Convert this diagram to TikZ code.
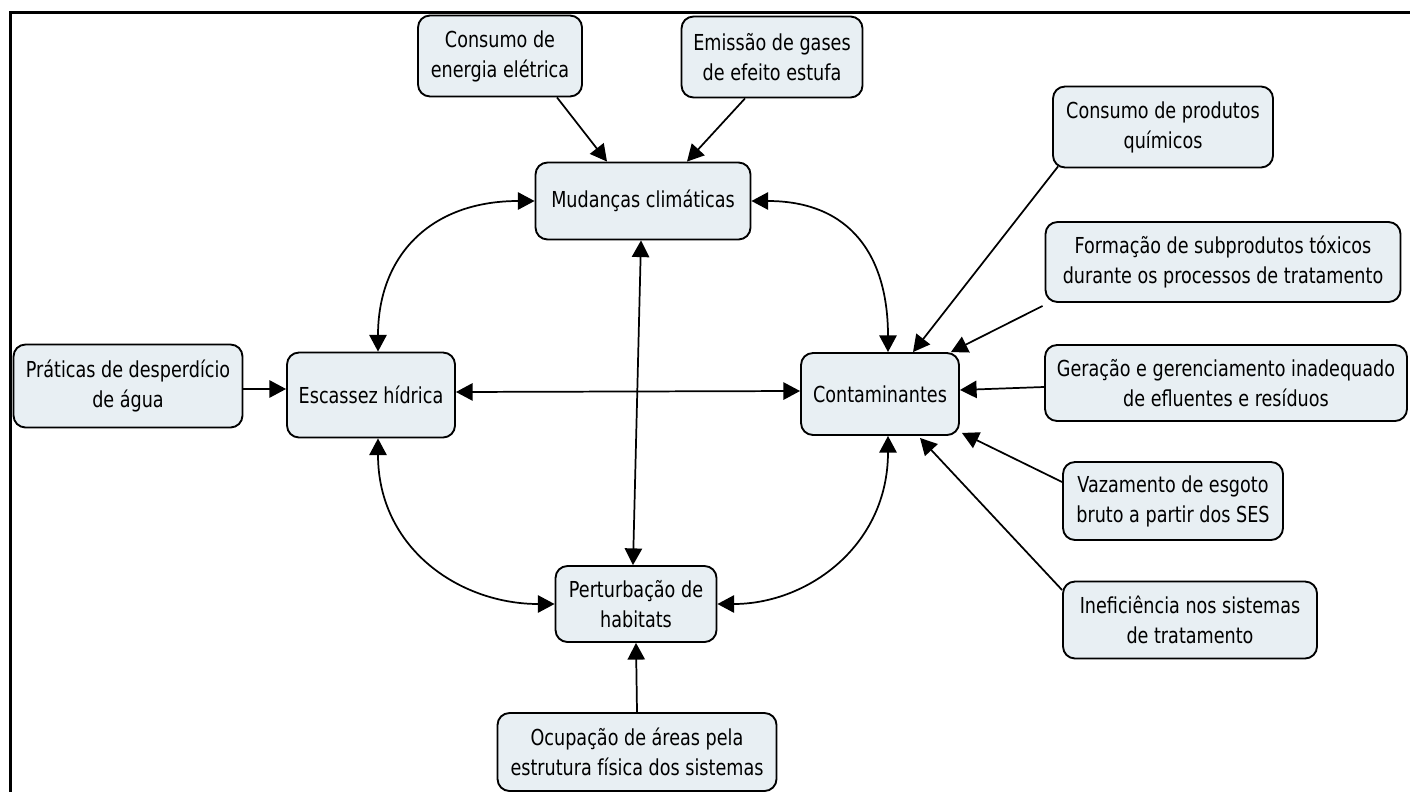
\documentclass[tikz,border=0pt]{standalone}
\usepackage{fontspec}
\setmainfont{DejaVu Sans}[FakeStretch=0.8]
\usetikzlibrary{arrows.meta,calc}
\definecolor{boxfill}{RGB}{232,239,243}
\begin{document}
\begin{tikzpicture}[x=0.75pt,y=-0.75pt,
  box/.style={draw=black, line width=1.4pt, fill=boxfill, rounded corners=9pt,
    align=center, inner sep=0pt, font=\fontsize{16.5pt}{22.5pt}\selectfont},
  sz/.style 2 args={minimum width=#1*0.75pt, minimum height=#2*0.75pt},
  arr/.style={line width=1.3pt, -{Triangle[length=12.5pt,width=13pt]}},
  barr/.style={line width=1.3pt, {Triangle[length=12.5pt,width=13pt]}-{Triangle[length=12.5pt,width=13pt]}}]
\useasboundingbox (0,0) rectangle (1410,792);
% frame
\draw[line width=2pt] (10.5,792) -- (10.5,12.5) -- (1410,12.5);

% nodes
\node[box, sz={164}{81}] (ene) at (500,56) {Consumo de\\energia elétrica};
\node[box, sz={181}{81}] (emi) at (772,57) {Emissão de gases\\de efeito estufa};
\node[box, sz={215}{77}] (mud) at (643,201) {Mudanças climáticas};
\node[box, sz={220}{81}] (qui) at (1163,127) {Consumo de produtos\\químicos};
\node[box, sz={355}{80}] (for) at (1223,262) {Formação de subprodutos tóxicos\\durante os processos de tratamento};
\node[box, sz={362}{76}] (ger) at (1226,383) {Geração e gerenciamento inadequado\\de efluentes e resíduos};
\node[box, sz={220}{78}] (vaz) at (1173,501) {Vazamento de esgoto\\bruto a partir dos SES};
\node[box, sz={254}{77}] (ine) at (1190,620) {Ineficiência nos sistemas\\de tratamento};
\node[box, sz={158}{82}] (con) at (880,394) {Contaminantes};
\node[box, sz={168}{85}] (esc) at (371,395) {Escassez hídrica};
\node[box, sz={229}{83}] (pra) at (128,386) {Práticas de desperdício\\de água};
\node[box, sz={161}{76}] (per) at (636,604) {Perturbação de\\habitats};
\node[box, sz={279}{78}] (ocu) at (637,752) {Ocupação de áreas pela\\estrutura física dos sistemas};

% connectors into Mudanças
\draw[arr] ($(ene.south)+(57,0)$) -- ($(mud.north)+(-36,0)$);
\draw[arr] ($(emi.south)+(-27,0)$) -- ($(mud.north)+(44,0)$);

% curved two-way connectors
\draw[barr] ($(esc.north)+(7,0)$) .. controls +(0,-95) and +(-105,0) .. (mud.west);
\draw[barr] (mud.east) .. controls +(100,0) and +(0,-95) .. ($(con.north)+(8,0)$);
\draw[barr] ($(esc.south)+(7,0)$) .. controls +(0,110) and +(-95,0) .. (per.west);
\draw[barr] (per.east) .. controls +(90,0) and +(0,110) .. ($(con.south)+(8,0)$);
\draw[barr] ($(mud.south)+(-2,0)$) -- ($(per.north)+(-3,0)$);
\draw[barr] ($(esc.east)+(0,-3)$) -- ($(con.west)+(0,-3)$);

% feeders
\draw[arr] ($(pra.east)+(0,3)$) -- ($(esc.west)+(0,-6)$);
\draw[arr] (ocu.north) -- (per.south);
\draw[arr] ($(qui.south west)+(6,-2)$) -- ($(con.north)+(33,0)$);
\draw[arr] ($(for.south west)+(-2,3)$) -- ($(con.north east)+(-9,0)$);
\draw[arr] ($(ger.west)+(0,4)$) -- ($(con.east)+(0,-4)$);
\draw[arr] ($(vaz.west)+(0,-19)$) -- ($(con.south east)+(2,-3)$);
\draw[arr] ($(ine.west)+(0,-30)$) -- ($(con.south)+(40,2)$);
\end{tikzpicture}
\end{document}
